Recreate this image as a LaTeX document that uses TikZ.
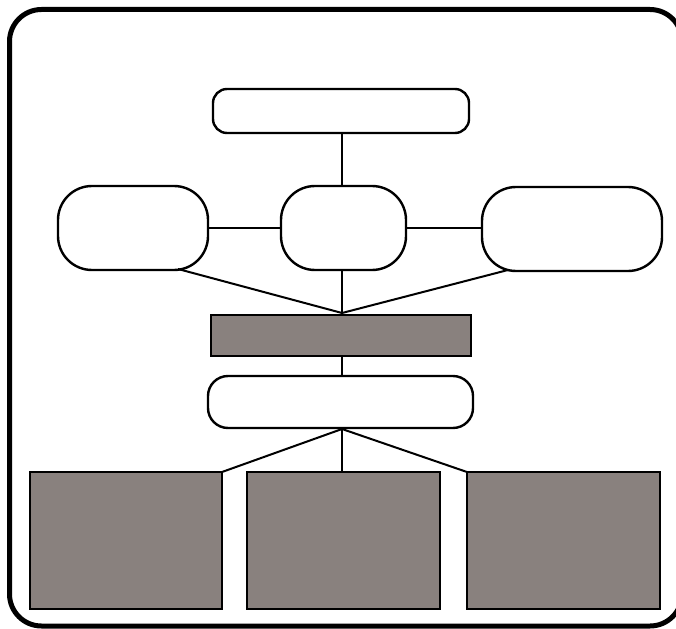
\documentclass[tikz,border=0pt]{standalone}
\begin{document}
\begin{tikzpicture}[x=1pt,y=-1pt,
  box/.style={draw=black,line width=2.4pt,inner sep=0pt,outer sep=0pt,anchor=north west},
  rbox/.style={box,fill=white},
  gbox/.style={box,fill=boxgray},
  conn/.style={line width=2pt,black}]
\definecolor{boxgray}{RGB}{137,129,126}
\useasboundingbox (0,0) rectangle (676,628);
\fill[white] (0,0) rectangle (676,628);
\draw[line width=5pt,rounded corners=32pt] (9.5,9.5) rectangle (682,626);
% nodes
\node[rbox,rounded corners=14pt,minimum width=256pt,minimum height=44pt] (top) at (213,89) {};
\node[rbox,rounded corners=34pt,minimum width=150pt,minimum height=84pt] (L) at (58,186) {};
\node[rbox,rounded corners=34pt,minimum width=125pt,minimum height=84pt] (M) at (281,186) {};
\node[rbox,rounded corners=34pt,minimum width=180pt,minimum height=84pt] (R) at (482,187) {};
\node[gbox,minimum width=260pt,minimum height=41pt] (bar) at (211,315) {};
\node[rbox,rounded corners=20pt,minimum width=265pt,minimum height=52pt] (low) at (208,376) {};
\node[gbox,minimum width=192pt,minimum height=137pt] (B1) at (30,472) {};
\node[gbox,minimum width=193pt,minimum height=137pt] (B2) at (247,472) {};
\node[gbox,minimum width=193pt,minimum height=137pt] (B3) at (467,472) {};
% junction points
\coordinate (j1) at (342,313);
\coordinate (Lout) at (178,269);
\coordinate (Rout) at (508,270);
\coordinate (j2) at (342,429);
% connectors
\draw[conn] (top.south -| j1) -- (M.north -| j1);
\draw[conn] (L.east) -- (M.west);
\draw[conn] (M.east) -- (R.west |- M.east);
\draw[conn] (Lout) -- (j1);
\draw[conn] (M.south -| j1) -- (j1);
\draw[conn] (Rout) -- (j1);
\draw[conn] (bar.south -| j1) -- (low.north -| j1);
\draw[conn] (j2) -- (B1.north east);
\draw[conn] (j2) -- (B2.north -| j2);
\draw[conn] (j2) -- (B3.north west);
\end{tikzpicture}
\end{document}
